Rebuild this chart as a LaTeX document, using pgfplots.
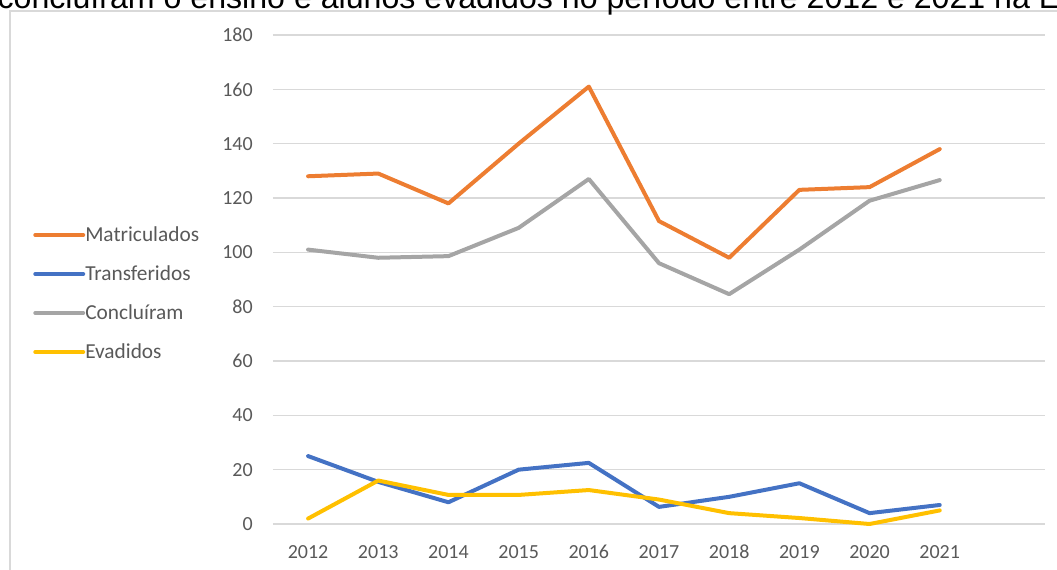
\documentclass[border=0pt]{standalone}
\usepackage{fontspec}
\setmainfont{Carlito}
\newfontfamily\titlefont{Liberation Sans}
\usepackage{pgfplots}
\pgfplotsset{compat=1.18}
\definecolor{cOrange}{HTML}{ED7D31}
\definecolor{cBlue}{HTML}{4472C4}
\definecolor{cGray}{HTML}{A5A5A5}
\definecolor{cYellow}{HTML}{FFC000}
\definecolor{gridgray}{HTML}{D9D9D9}
\definecolor{labelgray}{HTML}{595959}
\begin{document}
\begin{tikzpicture}
\useasboundingbox (0,0) rectangle (792.75pt,426.75pt);
\draw[color=gridgray, line width=1.1pt] (7.5pt,-5pt) -- (7.5pt,418.5pt) -- (800pt,418.5pt);
\node[anchor=base west, inner sep=0pt, font=\titlefont\fontsize{24.1}{29}\selectfont] at (-2pt,420pt) {concluíram o ensino e alunos evadidos no período entre 2012 e 2021 na Escola};
\begin{axis}[
  at={(204.75pt,33.75pt)}, anchor=south west,
  width=579pt, height=366.75pt, scale only axis,
  xmin=2011.5, xmax=2022.5, ymin=0, ymax=180,
  ytick={0,20,...,180},
  xtick={2012,2013,2014,2015,2016,2017,2018,2019,2020,2021},
  xticklabels={2012,2013,2014,2015,2016,2017,2018,2019,2020,2021},
  axis line style={draw=none},
  major tick length=0pt,
  ymajorgrids,
  grid style={color=gridgray, line width=1.1pt},
  tick label style={font=\fontsize{15}{18}\selectfont, text=labelgray},
  /pgf/number format/assume math mode=true,
  yticklabel style={anchor=east, inner sep=0pt, xshift=-15pt},
  xticklabel style={anchor=base, inner sep=0pt, yshift=-25.9pt},
  legend style={at={(axis description cs:-0.3109,0.4714)}, anchor=west,
    draw=none, fill=none, inner sep=0pt,
    font=\fontsize{16}{19}\selectfont, text=labelgray,
    nodes={inner sep=0pt, text height=10pt, text depth=0pt},
    row sep=19.25pt,
    /tikz/every even column/.append style={column sep=2pt}},
  legend cell align=left,
  legend image code/.code={\draw[#1] (0pt,0pt) -- (36pt,0pt);},
  every axis plot/.append style={line width=3pt, line join=round, line cap=round},
  clip=false,
]
\addplot[color=cOrange] coordinates {
(2012,128) (2013,129) (2014,118) (2015,140) (2016,161) (2017,111.5) (2018,98) (2019,123) (2020,124) (2021,138)};
\addlegendentry{Matriculados}
\addplot[color=cBlue] coordinates {
(2012,25) (2013,15.5) (2014,8) (2015,20) (2016,22.5) (2017,6.3) (2018,10) (2019,15) (2020,4) (2021,7)};
\addlegendentry{Transferidos}
\addplot[color=cGray] coordinates {
(2012,101) (2013,98) (2014,98.6) (2015,109) (2016,127) (2017,96) (2018,84.6) (2019,101) (2020,119) (2021,126.6)};
\addlegendentry{Concluíram}
\addplot[color=cYellow] coordinates {
(2012,2) (2013,16) (2014,10.7) (2015,10.7) (2016,12.5) (2017,9) (2018,4) (2019,2.2) (2020,0) (2021,5)};
\addlegendentry{Evadidos}
\end{axis}
\end{tikzpicture}
\end{document}
